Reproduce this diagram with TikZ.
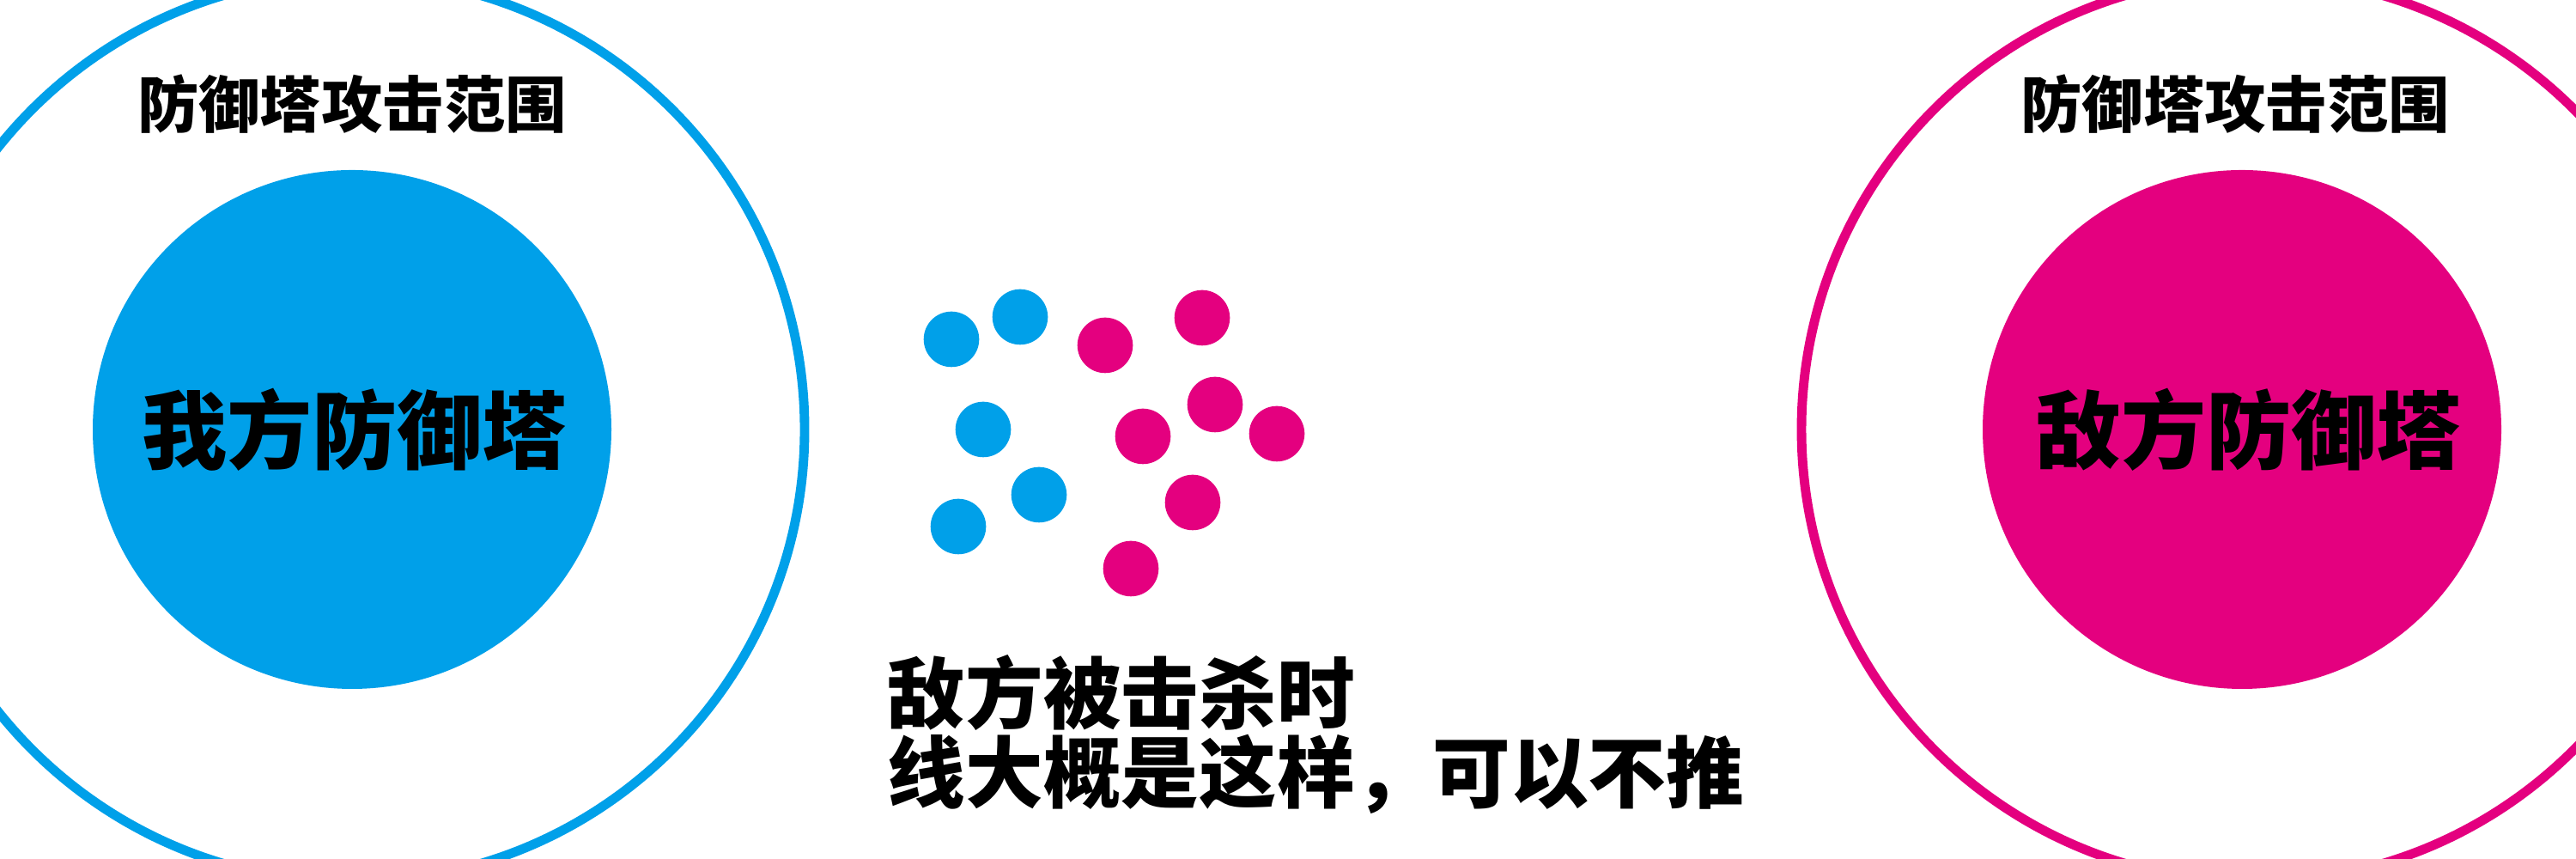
\documentclass[tikz,border=0pt]{standalone}
\usepackage{fontspec}
\newfontfamily\cjk{Noto Sans CJK SC}
\definecolor{ourblue}{RGB}{0,160,233}
\definecolor{foepink}{RGB}{228,0,127}
\tikzset{
  range ring/.style={line width=3.1pt},
  range text/.style={inner sep=0pt, font=\cjk\bfseries\fontsize{20.3pt}{20.3pt}\selectfont},
  tower text/.style={inner sep=0pt, font=\cjk\bfseries\fontsize{28.2pt}{28.2pt}\selectfont},
  note text/.style={inner sep=0pt, align=left, font=\cjk\bfseries\fontsize{25.8pt}{26.2pt}\selectfont}
}
\begin{document}
\begin{tikzpicture}
  \useasboundingbox (0,0) rectangle (30,10);

  % Our tower
  \coordinate (L) at (4.10,5);
  \fill[ourblue] (L) circle (3.02);
  \draw[ourblue, range ring] (L) circle (5.27);

  % Enemy tower
  \coordinate (R) at (26.11,5);
  \coordinate (Rring) at (26.25,5);
  \fill[foepink] (R) circle (3.02);
  \draw[foepink, range ring] (Rring) circle (5.27);

  % Labels
  \node (ourrange) at (4.10,8.79) [range text] {防御塔攻击范围};
  \node (foerange) at (26.03,8.79) [range text] {防御塔攻击范围};
  \node (ourtower) at (4.13,5.0) [tower text] {我方防御塔};
  \node (foetower) at (26.19,5.0) [tower text] {敌方防御塔};

  % Minions
  \foreach \x/\y in {11.08/6.05, 11.88/6.31, 11.45/5.00, 12.10/4.24, 11.16/3.87}
    \fill[ourblue] (\x,\y) circle (0.323);
  \foreach \x/\y in {12.87/5.98, 14.00/6.30, 14.15/5.29, 13.31/4.92, 14.87/4.95, 13.89/4.15, 13.17/3.38}
    \fill[foepink] (\x,\y) circle (0.323);

  % Note
  \node (note) at (10.33,1.45) [anchor=west, note text] {敌方被击杀时\\线大概是这样，可以不推};
\end{tikzpicture}
\end{document}
